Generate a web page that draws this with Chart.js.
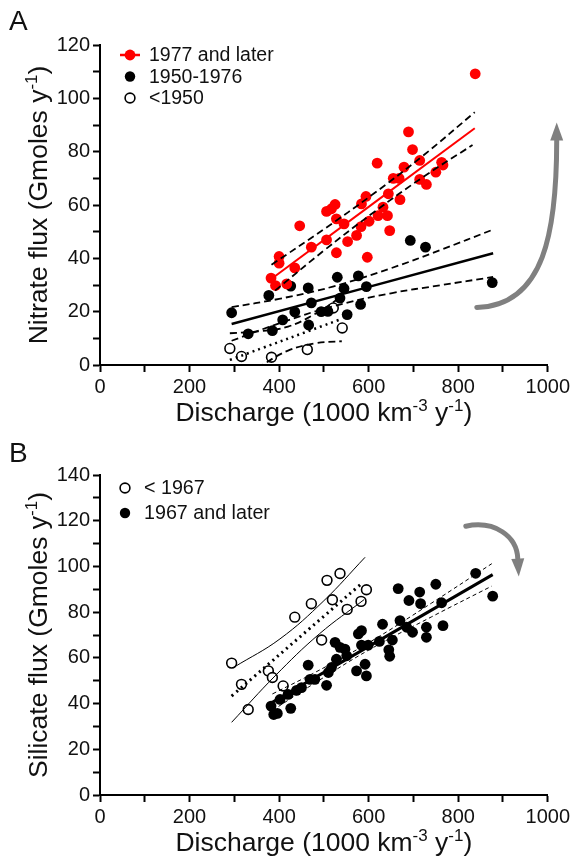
<!DOCTYPE html>
<html>
<head>
<meta charset="utf-8">
<script src="https://cdn.jsdelivr.net/npm/chart.js@4.4.1/dist/chart.umd.min.js"></script>
<style>
  body { margin: 0; background: #fff; }
  .painel { position: absolute; left: 0; width: 573px; height: 429px; }
</style>
</head>
<body>
<div class="painel" style="top:0"><canvas id="graficoA" width="573" height="429"></canvas></div>
<div class="painel" style="top:429px"><canvas id="graficoB" width="573" height="429"></canvas></div>
<script>
// ---- Painel A: nitrato ----
const recentesA = [[382,32.6],[392,29.8],[417,30.4],[400,40.7],[400,38.2],[435,36.4],[446,52.2],[472,44.2],
  [506,46.9],[506,57.6],[517,58.6],[525,60.2],[528,54.8],[528,42.1],[545,52.9],[553,46.3],[573,48.6],
  [583,51.9],[584,60.4],[594,63.2],[597,40.4],[601,53.9],[619,75.7],[621,56],[632,59.2],[642,56],
  [644,64.2],[647,50.4],[655,70],[668,70],[670,62],[679,74.2],[689,87.4],[698,80.8],[714,76.7],
  [714,69.6],[729,67.7],[750,72.3],[763,76],[766,75],[838,109.2]];
const medioA = [[294,19.6],[331,11.7],[377,26.1],[385,12.9],[408,16.9],[426,29.6],[435,19.9],[465,28.9],
  [466,15],[472,23.3],[494,20],[509,20.1],[530,32.9],[536,25.1],[545,28.7],[552,18.9],[577,33.4],
  [582,22.7],[595,29.4],[693,46.7],[727,44.2],[876,30.9]];
const antigosA = [[290,6.2],[316,3.2],[383,2.9],[463,5.8],[521,21.4],[541,13.9]];

const retaRecentesA = [[390,33.2],[837,88.8]];
const icSupRecentesA = [[383,37.6],[500,50.9],[610,64.1],[720,78.3],[837,94.8]];
const icInfRecentesA = [[391,27.9],[500,42.9],[610,57.1],[720,70.3],[832,82.5]];
const retaMedioA = [[294,15.4],[878,41.9]];
const icSupMedioA = [[294,21.7],[400,24.8],[520,29.4],[650,36.3],[760,43.1],[878,50.8]];
const icInfMedioA = [[294,9.1],[400,15.6],[520,22.0],[650,26.9],[760,29.9],[878,33.0]];
const retaAntigosA = [[290,1.9],[540,17.3]];
const icSupAntigosA = [[290,11.9],[360,12.7],[420,14.4],[480,19.1],[540,25.7]];
const icInfAntigosA = [[290,-8.1],[360,-0.3],[420,5.4],[480,8.1],[540,8.9]];

// ---- Painel B: silicato ----
const antigosB = [[294,57.7],[316,48.4],[331,37.4],[376,54.3],[385,51.4],[409,47.7],[435,77.8],[472,83.7],
  [495,67.8],[507,93.9],[519,85.4],[536,96.9],[552,81.2],[583,84.7],[595,89.8]];
const recentesB = [[382,38.9],[388,35.2],[396,35.7],[402,41.8],[420,44],[426,37.9],[439,45.8],[450,47],
  [465,56.8],[469,50.6],[480,50.6],[506,48],[510,53.6],[517,55.8],[525,66.8],[528,59.4],[536,64.6],
  [547,63.8],[551,60.9],[573,54.3],[577,70.5],[584,71.9],[584,65.6],[592,57.2],[595,52.1],[599,65.6],
  [624,67.2],[631,74.7],[645,63.5],[647,60.7],[653,67.8],[666,90.3],[670,76.3],[685,73.4],[690,85.1],
  [698,71.2],[714,88.8],[716,83.7],[729,73.4],[729,69],[750,92.2],[763,84.1],[766,74.1],[839,97],[877,87]];

const retaRecentesB = [[380,40],[877,96.4]];
const icSupRecentesB = [[385,44.2],[480,53.6],[600,66.6],[740,83.9],[875,101.2]];
const icInfRecentesB = [[385,37.0],[480,49.0],[600,63.4],[740,77.9],[875,91.4]];
const retaAntigosB = [[294,43.3],[586,92.8]];
const icSupAntigosB = [[300,56],[402,68.3],[500,85],[592,104]];
const icInfAntigosB = [[294,31.8],[391,52.1],[490,70.5],[590,85.5]];

const VERMELHO = '#ff0000';
const CINZA = '#808080';
const FONTE = "'Liberation Sans', Arial, sans-serif";

Chart.defaults.font.family = FONTE;
Chart.defaults.color = '#111';

function pares(lista) {
  return lista.map(p => ({ x: p[0], y: p[1] }));
}

function pontos(label, lista, cor, vazio) {
  return {
    label: label,
    data: pares(lista),
    pointRadius: vazio ? 4.9 : 5.4,
    pointBackgroundColor: vazio ? '#fff' : cor,
    pointBorderColor: cor,
    pointBorderWidth: vazio ? 1.6 : 0,
    showLine: false,
    order: 2
  };
}

function linha(lista, cor, largura, tracejado) {
  return {
    data: pares(lista),
    showLine: true,
    borderColor: cor,
    borderWidth: largura,
    borderDash: tracejado || [],
    pointRadius: 0,
    tension: 0.4,
    fill: false,
    order: 1
  };
}

function eixoX(altura) {
  return {
    type: 'linear', min: 0, max: 1000,
    ticks: { stepSize: 100, autoSkip: false, maxRotation: 0, padding: 3, font: { size: 20 },
      callback: v => (v % 200 === 0 ? v : '') },
    grid: { drawOnChartArea: false, tickLength: 7, tickWidth: 2, color: '#000' },
    border: { color: '#000', width: 2 },
    afterFit: s => { s.height = altura; }
  };
}

function eixoY(maximo) {
  return {
    type: 'linear', min: 0, max: maximo,
    ticks: { stepSize: 10, autoSkip: false, padding: 3, font: { size: 20 },
      callback: v => (v % 20 === 0 ? v : '') },
    grid: { drawOnChartArea: false, tickLength: 7, tickWidth: 2, color: '#000' },
    border: { color: '#000', width: 2 },
    afterFit: s => { s.width = 100; }
  };
}

// textos com sobrescrito (titulos dos eixos)
function textoComposto(ctx, partes, x, y) {
  const normal = '26.5px ' + FONTE;
  const pequeno = '17px ' + FONTE;
  let total = 0;
  partes.forEach(p => { ctx.font = p[1] ? pequeno : normal; total += ctx.measureText(p[0]).width; });
  let cx = x - total / 2;
  ctx.textAlign = 'left';
  ctx.textBaseline = 'alphabetic';
  partes.forEach(p => {
    ctx.font = p[1] ? pequeno : normal;
    ctx.fillText(p[0], cx, p[1] ? y - 10 : y);
    cx += ctx.measureText(p[0]).width;
  });
}

function desenharMarcador(ctx, tipo, cx, cy) {
  if (tipo === 'linha') {
    ctx.strokeStyle = VERMELHO; ctx.lineWidth = 2.5;
    ctx.beginPath(); ctx.moveTo(cx - 10, cy); ctx.lineTo(cx + 10, cy); ctx.stroke();
    ctx.fillStyle = VERMELHO;
    ctx.beginPath(); ctx.arc(cx, cy, 5.4, 0, Math.PI * 2); ctx.fill();
  } else if (tipo === 'cheio') {
    ctx.fillStyle = '#000';
    ctx.beginPath(); ctx.arc(cx, cy, 5.2, 0, Math.PI * 2); ctx.fill();
  } else {
    ctx.strokeStyle = '#000'; ctx.lineWidth = 1.6;
    ctx.beginPath(); ctx.arc(cx, cy, 4.9, 0, Math.PI * 2); ctx.stroke();
  }
}

const extras = {
  id: 'extras',
  afterDatasetsDraw(chart, args, opts) {
    const ctx = chart.ctx;
    const xs = chart.scales.x, ys = chart.scales.y;
    const area = chart.chartArea;
    ctx.save();
    ctx.fillStyle = '#111';
    ctx.font = '28px ' + FONTE;
    ctx.textAlign = 'left';
    ctx.textBaseline = 'alphabetic';
    ctx.fillText(opts.letra, 9, opts.letraY);

    textoComposto(ctx, [['Discharge (1000 km', false], ['-3', true], [' y', false], ['-1', true], [')', false]],
      (area.left + area.right) / 2, area.bottom + 56);

    ctx.save();
    ctx.translate(47, (area.top + area.bottom) / 2);
    ctx.rotate(-Math.PI / 2);
    textoComposto(ctx, opts.tituloY, 0, 0);
    ctx.restore();

    // legenda dentro da area do grafico
    const leg = opts.legenda;
    leg.itens.forEach((it, i) => {
      const cy = area.top + leg.topo + i * leg.espaco;
      desenharMarcador(ctx, it[1], area.left + leg.marcadorX, cy);
      ctx.fillStyle = '#111';
      ctx.font = leg.tamanho + 'px ' + FONTE;
      ctx.textAlign = 'left';
      ctx.textBaseline = 'middle';
      ctx.fillText(it[0], area.left + leg.textoX, cy + 1);
    });

    // seta cinza (coordenadas no espaco dos dados)
    const p = opts.seta.map(q => [xs.getPixelForValue(q[0]), ys.getPixelForValue(q[1])]);
    ctx.strokeStyle = CINZA;
    ctx.fillStyle = CINZA;
    ctx.lineWidth = 5;
    ctx.lineCap = 'round';
    ctx.beginPath();
    ctx.moveTo(p[0][0], p[0][1]);
    ctx.bezierCurveTo(p[1][0], p[1][1], p[2][0], p[2][1], p[3][0], p[3][1]);
    ctx.stroke();
    const ang = Math.atan2(p[4][1] - p[3][1], p[4][0] - p[3][0]);
    const bx = p[4][0] - 18 * Math.cos(ang), by = p[4][1] - 18 * Math.sin(ang);
    ctx.beginPath();
    ctx.moveTo(p[4][0], p[4][1]);
    ctx.lineTo(bx + 6.5 * Math.sin(ang), by - 6.5 * Math.cos(ang));
    ctx.lineTo(bx - 6.5 * Math.sin(ang), by + 6.5 * Math.cos(ang));
    ctx.closePath();
    ctx.fill();
    ctx.restore();
  }
};

const graficoA = new Chart(document.getElementById('graficoA'), {
  type: 'scatter',
  data: {
    datasets: [
      pontos('1977 and later', recentesA, VERMELHO, false),
      pontos('1950-1976', medioA, '#000', false),
      pontos('<1950', antigosA, '#000', true),
      linha(retaRecentesA, VERMELHO, 2),
      linha(icSupRecentesA, '#000', 1.8, [7, 4]),
      linha(icInfRecentesA, '#000', 1.8, [7, 4]),
      linha(retaMedioA, '#000', 2.5),
      linha(icSupMedioA, '#000', 1.8, [7, 4]),
      linha(icInfMedioA, '#000', 1.8, [7, 4]),
      linha(retaAntigosA, '#000', 2.5, [2, 4]),
      linha(icSupAntigosA, '#000', 1.8, [7, 4]),
      linha(icInfAntigosA, '#000', 1.8, [7, 4])
    ]
  },
  options: {
    responsive: false, animation: false, devicePixelRatio: 1,
    layout: { padding: { left: 0, right: 25, top: 45, bottom: 0 } },
    scales: { x: eixoX(64), y: eixoY(120) },
    plugins: {
      legend: { display: false },
      tooltip: { enabled: false },
      extras: {
        letra: 'A', letraY: 30,
        tituloY: [['Nitrate flux (Gmoles y', false], ['-1', true], [')', false]],
        legenda: { itens: [['1977 and later', 'linha'], ['1950-1976', 'cheio'], ['<1950', 'vazio']],
          topo: 10, espaco: 21.5, marcadorX: 30, textoX: 49, tamanho: 19.5 },
        seta: [[841.5, 21.6], [993.3, 22.3], [1020, 50.4], [1020, 84.2], [1020, 90.9]]
      }
    }
  },
  plugins: [extras]
});

const graficoB = new Chart(document.getElementById('graficoB'), {
  type: 'scatter',
  data: {
    datasets: [
      pontos('< 1967', antigosB, '#000', true),
      pontos('1967 and later', recentesB, '#000', false),
      linha(retaRecentesB, '#000', 3),
      linha(icSupRecentesB, '#000', 1, [4, 3]),
      linha(icInfRecentesB, '#000', 1, [4, 3]),
      linha(retaAntigosB, '#000', 3, [2, 4]),
      linha(icSupAntigosB, '#000', 1),
      linha(icInfAntigosB, '#000', 1)
    ]
  },
  options: {
    responsive: false, animation: false, devicePixelRatio: 1,
    layout: { padding: { left: 0, right: 25, top: 46, bottom: 0 } },
    scales: { x: eixoX(63), y: eixoY(140) },
    plugins: {
      legend: { display: false },
      tooltip: { enabled: false },
      extras: {
        letra: 'B', letraY: 33,
        tituloY: [['Silicate flux (Gmoles y', false], ['-1', true], [')', false]],
        legenda: { itens: [['< 1967', 'vazio'], ['1967 and later', 'cheio']],
          topo: 13, espaco: 25, marcadorX: 25, textoX: 44, tamanho: 19.7 },
        seta: [[817, 117.6], [881.7, 120.2], [930.8, 113.2], [933, 103.5], [935.3, 95.6]]
      }
    }
  },
  plugins: [extras]
});
</script>
</body>
</html>
